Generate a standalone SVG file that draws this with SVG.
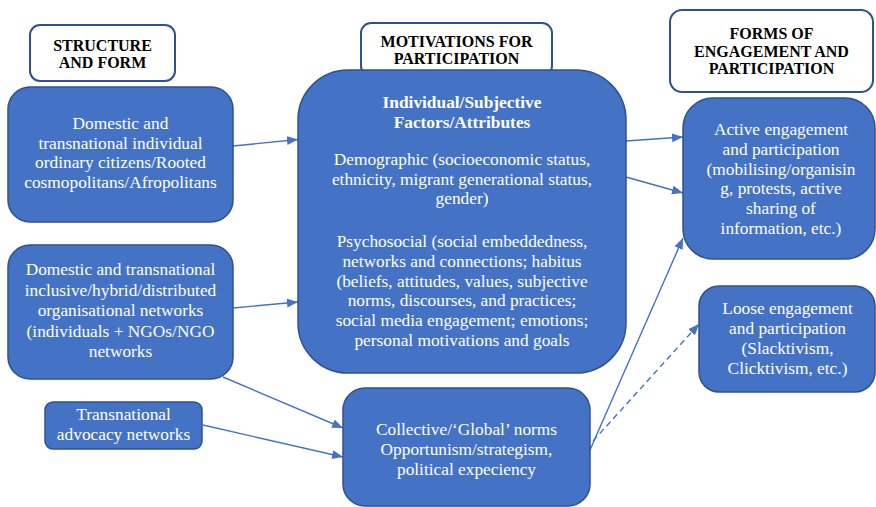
<svg xmlns="http://www.w3.org/2000/svg" width="876" height="507" viewBox="0 0 876 507" font-family="Liberation Serif, serif">
  <style>
    .box { fill: #4472C4; stroke: #2F528F; stroke-width: 1.5; }
    .head { fill: #FFFFFF; stroke: #2F528F; stroke-width: 2; }
    text { font-family: 'Liberation Serif', 'Times New Roman', serif; }
    .t { font-size: 17.33px; fill: #FFFFFF; text-anchor: middle; }
    .tb { font-size: 17.33px; font-weight: bold; fill: #FFFFFF; text-anchor: middle; }
    .h { font-size: 16px; font-weight: bold; fill: #000000; text-anchor: middle; }
    .link { fill: none; stroke: #4472C4; stroke-width: 1.4; marker-end: url(#arrow); }
    .dash { stroke-dasharray: 6 4; }
  </style>
  <defs>
    <marker id="arrow" markerUnits="userSpaceOnUse" markerWidth="12" markerHeight="10" refX="11" refY="4.5" orient="auto">
      <path d="M0,0 L11,4.5 L0,9 Z" fill="#4472C4"/>
    </marker>
  </defs>
  <rect width="876" height="507" fill="#FFFFFF"/>

  <!-- column headings -->
  <g id="head-structure">
    <rect class="head" x="30" y="25" width="145" height="56" rx="10"/>
    <text class="h" x="102.5" y="50.5">STRUCTURE</text>
    <text class="h" x="102.5" y="68">AND FORM</text>
  </g>
  <g id="head-motivations">
    <rect class="head" x="361" y="23" width="191" height="53" rx="10"/>
    <text class="h" x="456.5" y="47">MOTIVATIONS FOR</text>
    <text class="h" x="456.5" y="64">PARTICIPATION</text>
  </g>
  <g id="head-forms">
    <rect class="head" x="670" y="10" width="203" height="82" rx="12"/>
    <text class="h" x="771.5" y="39">FORMS OF</text>
    <text class="h" x="771.5" y="56.5">ENGAGEMENT AND</text>
    <text class="h" x="771.5" y="74">PARTICIPATION</text>
  </g>

  <!-- connectors -->
  <g id="connectors">
    <line class="link" x1="233" y1="146" x2="298" y2="139.5"/>
    <line class="link" x1="233" y1="308" x2="298" y2="302"/>
    <line class="link" x1="626" y1="141" x2="683" y2="137"/>
    <line class="link" x1="626" y1="177" x2="683" y2="193"/>
    <line class="link" x1="223" y1="377" x2="343" y2="428"/>
    <line class="link" x1="203" y1="425" x2="343" y2="457"/>
    <line class="link" x1="590" y1="450" x2="683" y2="238"/>
    <line class="link dash" x1="593" y1="441" x2="699" y2="324"/>
  </g>

  <!-- structure and form -->
  <g id="individual-citizens">
    <rect class="box" x="8" y="87" width="225" height="135" rx="22"/>
    <text class="t" x="120.5" y="129">Domestic and</text>
    <text class="t" x="120.5" y="148.7">transnational individual</text>
    <text class="t" x="120.5" y="168.4">ordinary citizens/Rooted</text>
    <text class="t" x="120.5" y="188.1">cosmopolitans/Afropolitans</text>
  </g>
  <g id="organisational-networks">
    <rect class="box" x="8" y="245" width="225" height="134" rx="22"/>
    <text class="t" x="120.5" y="275">Domestic and transnational</text>
    <text class="t" x="120.5" y="295.5">inclusive/hybrid/distributed</text>
    <text class="t" x="120.5" y="316">organisational networks</text>
    <text class="t" x="120.5" y="336.5">(individuals + NGOs/NGO</text>
    <text class="t" x="120.5" y="357">networks</text>
  </g>
  <g id="advocacy-networks">
    <rect class="box" x="45" y="402" width="157" height="47" rx="8"/>
    <text class="t" x="123.5" y="420">Transnational</text>
    <text class="t" x="123.5" y="440">advocacy networks</text>
  </g>

  <!-- motivations -->
  <g id="individual-factors">
    <rect class="box" x="298" y="70" width="328" height="303" rx="50"/>
    <text class="tb" x="462" y="108">Individual/Subjective</text>
    <text class="tb" x="462" y="128">Factors/Attributes</text>
    <text class="t" x="462" y="165">Demographic (socioeconomic status,</text>
    <text class="t" x="462" y="184.5">ethnicity, migrant generational status,</text>
    <text class="t" x="462" y="204">gender)</text>
    <text class="t" x="462" y="247">Psychosocial (social embeddedness,</text>
    <text class="t" x="462" y="266.8">networks and connections; habitus</text>
    <text class="t" x="462" y="286.6">(beliefs, attitudes, values, subjective</text>
    <text class="t" x="462" y="306.4">norms, discourses, and practices;</text>
    <text class="t" x="462" y="326.2">social media engagement; emotions;</text>
    <text class="t" x="462" y="346">personal motivations and goals</text>
  </g>
  <g id="collective-norms">
    <rect class="box" x="343" y="388" width="247" height="118" rx="22"/>
    <text class="t" x="466.5" y="435">Collective/‘Global’ norms</text>
    <text class="t" x="466.5" y="455">Opportunism/strategism,</text>
    <text class="t" x="466.5" y="475">political expeciency</text>
  </g>

  <!-- forms of engagement -->
  <g id="active-engagement">
    <rect class="box" x="683" y="98" width="192" height="161" rx="30"/>
    <text class="t" x="781" y="135">Active engagement</text>
    <text class="t" x="781" y="154.8">and participation</text>
    <text class="t" x="781" y="174.6">(mobilising/organisin</text>
    <text class="t" x="781" y="194.4">g, protests, active</text>
    <text class="t" x="781" y="214.2">sharing of</text>
    <text class="t" x="781" y="234">information, etc.)</text>
  </g>
  <g id="loose-engagement">
    <rect class="box" x="699" y="286" width="176" height="106" rx="20"/>
    <text class="t" x="787.5" y="314">Loose engagement</text>
    <text class="t" x="787.5" y="334">and participation</text>
    <text class="t" x="787.5" y="354">(Slacktivism,</text>
    <text class="t" x="787.5" y="374">Clicktivism, etc.)</text>
  </g>
</svg>
